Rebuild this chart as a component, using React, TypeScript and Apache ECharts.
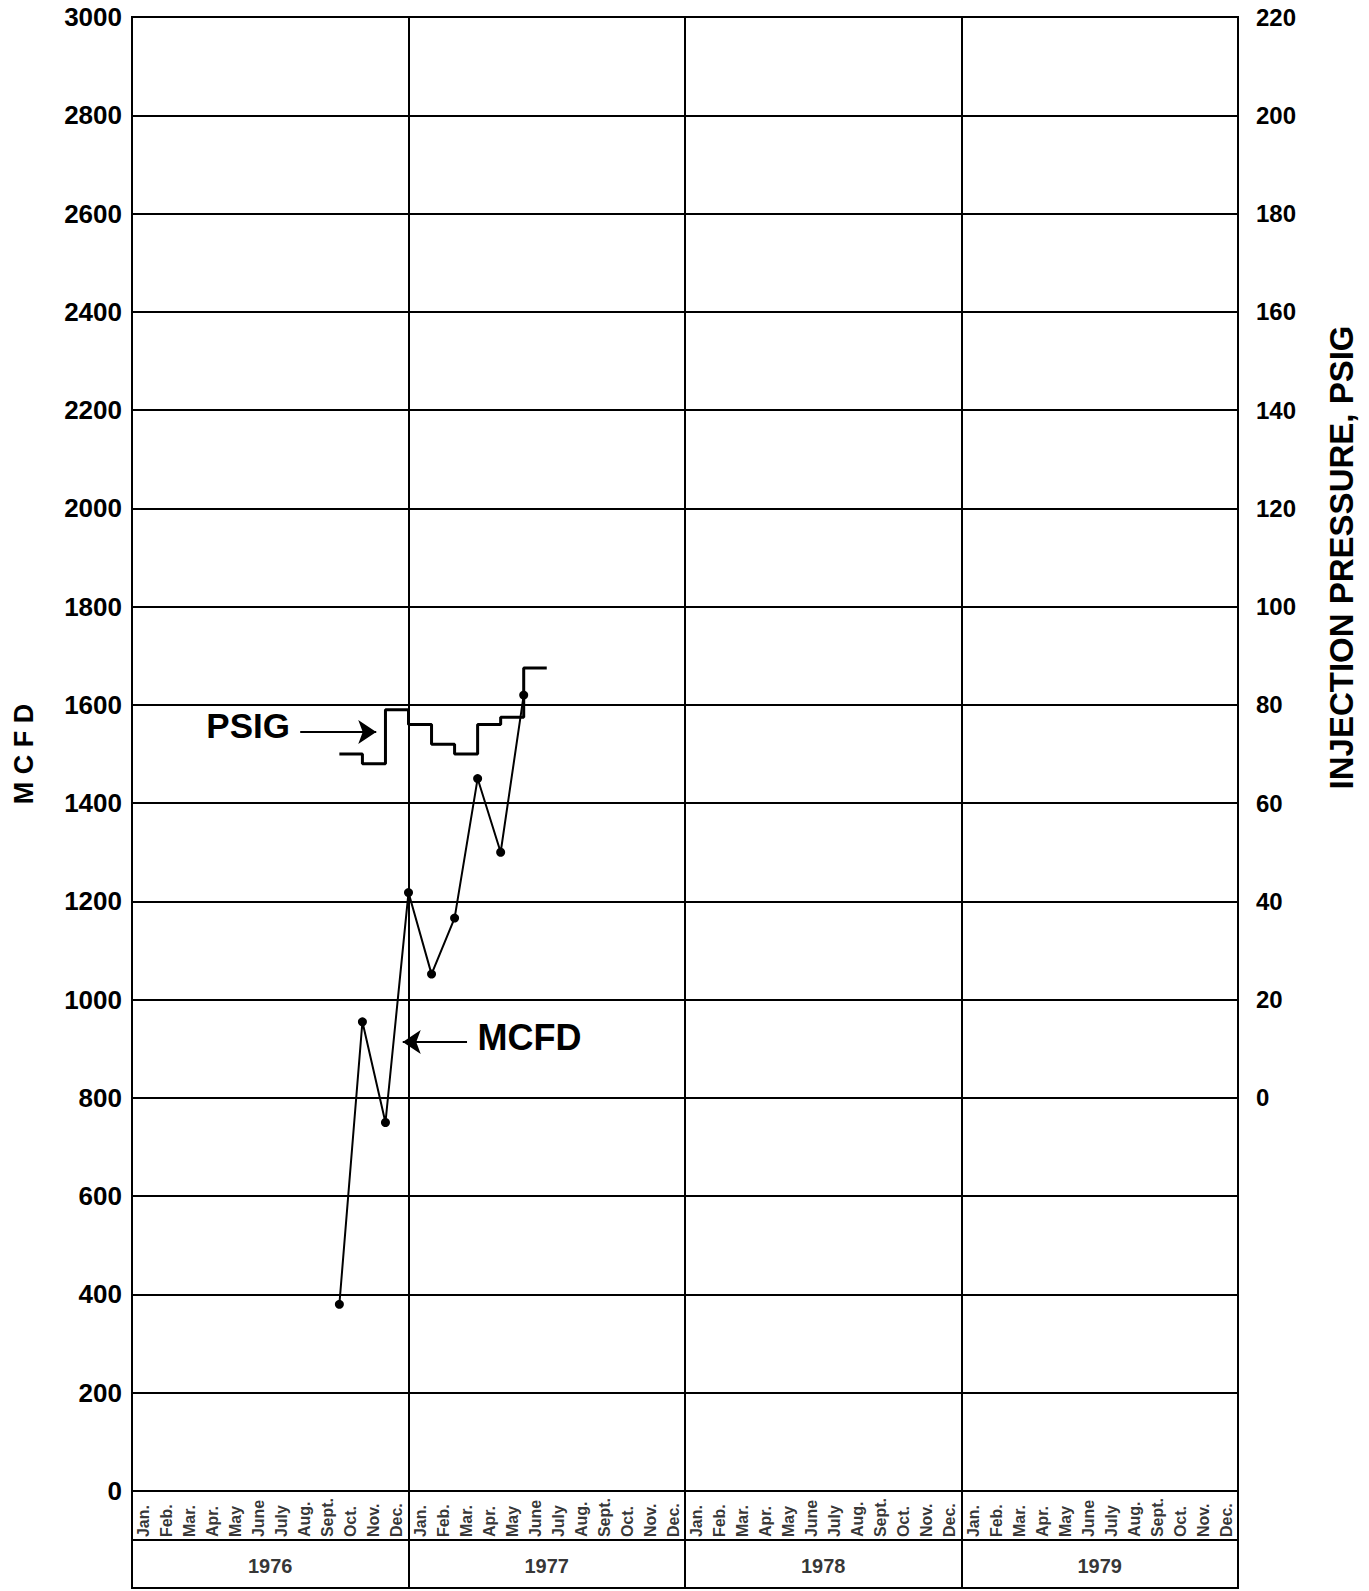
import React, { useEffect, useRef } from 'react';
import * as echarts from 'echarts';

// ---- data ----
const monthLabels = ['Jan.', 'Feb.', 'Mar.', 'Apr.', 'May', 'June', 'July', 'Aug.', 'Sept.', 'Oct.', 'Nov.', 'Dec.'];
const yearLabels = ['1976', '1977', '1978', '1979'];
// month index counted from Jan. 1976 (0 = start of Jan. 1976)
const mcfdMonthIndex = [9, 10, 11, 12, 13, 14, 15, 16, 17];
const mcfdValues = [380, 955, 750, 1218, 1052, 1166, 1450, 1300, 1620];
const psigStartIndex = [9, 10, 11, 12, 13, 14, 15, 16, 17];
const psigValues = [70, 68, 79, 76, 72, 70, 76, 77.5, 87.5];
const mcfdAxis = { min: 0, max: 3000, interval: 200 };
const psigAxis = { min: 0, max: 220, interval: 20 };
const psigZeroAtMcfd = 800;
const leftTitle = 'M C F D';
const rightTitle = 'INJECTION PRESSURE, PSIG';
const psigNote = { text: 'PSIG', at: [5.04, 75.9], arrowFrom: [7.3, 74.5], arrowTo: [10.6, 74.5] };
const mcfdNote = { text: 'MCFD', at: [17.25, 924], arrowFrom: [14.54, 914], arrowTo: [11.75, 914] };

// ---- layout ----
const W = 1369;
const H = 1591;
const LEFT = 132;
const RIGHT = 131;
const TOP = 17;
const PLOT_H = 1474;
const STRIP_BOTTOM = 3;
const FONT = '"Liberation Sans", Arial, Helvetica, sans-serif';
const BLACK = '#000';

export default function App() {
  const ref = useRef<HTMLDivElement>(null);

  useEffect(() => {
    if (!ref.current) return;
    const chart = echarts.init(ref.current, null, { renderer: 'svg' });
    const nMonths = yearLabels.length * monthLabels.length;
    const psigGridH = (PLOT_H * (mcfdAxis.max - psigZeroAtMcfd)) / (mcfdAxis.max - mcfdAxis.min);

    const mcfdData = mcfdMonthIndex.map((m, i) => [m, mcfdValues[i]]);
    const psigData: number[][] = [];
    psigStartIndex.forEach((m, i) => {
      psigData.push([m, psigValues[i]]);
      psigData.push([m + 1, psigValues[i]]);
    });

    const monthData: any[] = [];
    yearLabels.forEach((_, y) => {
      monthLabels.forEach((name, m) => {
        monthData.push({ value: [y * monthLabels.length + m + 0.5, 1.05], name });
      });
    });
    const yearData = yearLabels.map((name, y) => ({
      value: [y * monthLabels.length + monthLabels.length / 2, 0.45],
      name,
    }));

    const lineBlack = { color: BLACK, width: 2 };
    const arrowLine = (note: { arrowFrom: number[]; arrowTo: number[] }) => ({
      silent: true, symbol: ['none', 'arrow'], symbolSize: 18,
      lineStyle: { color: BLACK, width: 2, type: 'solid' }, label: { show: false },
      data: [[{ coord: note.arrowFrom }, { coord: note.arrowTo }]],
    });

    const option: any = {
      animation: false,
      backgroundColor: '#fff',
      textStyle: { fontFamily: FONT },
      grid: [
        { left: LEFT, right: RIGHT, top: TOP, height: PLOT_H, show: true, borderColor: BLACK, borderWidth: 2, backgroundColor: 'transparent' },
        { left: LEFT, right: RIGHT, top: TOP + PLOT_H, bottom: STRIP_BOTTOM, show: true, borderColor: BLACK, borderWidth: 2, backgroundColor: 'transparent' },
        { left: LEFT, right: RIGHT, top: TOP, height: psigGridH, show: false },
      ],
      xAxis: [
        {
          gridIndex: 0, type: 'value', min: 0, max: nMonths, interval: 12,
          axisLabel: { show: false }, axisTick: { show: false },
          axisLine: { show: true, lineStyle: lineBlack },
          splitLine: { show: true, lineStyle: lineBlack },
        },
        {
          gridIndex: 1, type: 'value', min: 0, max: nMonths, interval: 12,
          axisLabel: { show: false }, axisTick: { show: false },
          axisLine: { show: true, lineStyle: lineBlack },
          splitLine: { show: true, lineStyle: lineBlack },
        },
        { gridIndex: 2, type: 'value', min: 0, max: nMonths, show: false },
      ],
      yAxis: [
        {
          gridIndex: 0, type: 'value', position: 'left',
          min: mcfdAxis.min, max: mcfdAxis.max, interval: mcfdAxis.interval,
          axisLine: { show: true, lineStyle: lineBlack }, axisTick: { show: false },
          splitLine: { show: true, lineStyle: lineBlack },
          axisLabel: { color: BLACK, fontSize: 26, fontWeight: 'bold', fontFamily: FONT, margin: 10, formatter: (v: number) => String(v) },
          name: leftTitle, nameLocation: 'middle', nameGap: 95,
          nameTextStyle: { color: BLACK, fontSize: 27, fontWeight: 'bold', fontFamily: FONT },
        },
        {
          gridIndex: 1, type: 'value', min: 0, max: 2, interval: 1,
          axisLine: { show: false }, axisTick: { show: false }, axisLabel: { show: false },
          splitLine: { show: true, lineStyle: lineBlack },
        },
        {
          gridIndex: 2, type: 'value', position: 'right',
          min: psigAxis.min, max: psigAxis.max, interval: psigAxis.interval,
          axisLine: { show: false }, axisTick: { show: false }, splitLine: { show: false },
          axisLabel: { color: BLACK, fontSize: 24, fontWeight: 'bold', fontFamily: FONT, margin: 18, formatter: (v: number) => String(v) },
          name: rightTitle, nameLocation: 'middle', nameGap: 87,
          nameTextStyle: { color: BLACK, fontSize: 33, fontWeight: 'bold', fontFamily: FONT },
        },
      ],
      series: [
        {
          name: 'MCFD', type: 'line', xAxisIndex: 0, yAxisIndex: 0, data: mcfdData,
          symbol: 'circle', symbolSize: 9, showSymbol: true,
          itemStyle: { color: BLACK }, lineStyle: { color: BLACK, width: 2 },
          z: 5,
          markLine: arrowLine(mcfdNote),
          markPoint: {
            silent: true, symbol: 'circle', symbolSize: 0,
            label: { show: true, position: 'inside', formatter: mcfdNote.text, color: BLACK, fontSize: 36, fontWeight: 'bold', fontFamily: FONT },
            data: [{ coord: mcfdNote.at }],
          },
        },
        {
          name: 'PSIG', type: 'line', xAxisIndex: 2, yAxisIndex: 2, data: psigData,
          showSymbol: false, symbol: 'none',
          lineStyle: { color: BLACK, width: 3 },
          z: 5,
          markLine: arrowLine(psigNote),
          markPoint: {
            silent: true, symbol: 'circle', symbolSize: 0,
            label: { show: true, position: 'inside', formatter: psigNote.text, color: BLACK, fontSize: 35, fontWeight: 'bold', fontFamily: FONT },
            data: [{ coord: psigNote.at }],
          },
        },
        {
          name: 'months', type: 'scatter', xAxisIndex: 1, yAxisIndex: 1, data: monthData,
          symbolSize: 0.1, itemStyle: { color: 'transparent' }, silent: true,
          label: {
            show: true, position: 'inside', formatter: (p: any) => p.name, rotate: 90,
            align: 'left', verticalAlign: 'middle',
            color: BLACK, fontSize: 16, fontWeight: 'bold', fontFamily: FONT,
          },
        },
        {
          name: 'years', type: 'scatter', xAxisIndex: 1, yAxisIndex: 1, data: yearData,
          symbolSize: 0.1, itemStyle: { color: 'transparent' }, silent: true,
          label: {
            show: true, position: 'inside', formatter: (p: any) => p.name,
            align: 'center', verticalAlign: 'middle',
            color: BLACK, fontSize: 20, fontWeight: 'bold', fontFamily: FONT,
          },
        },
      ],
    };

    chart.setOption(option);
    return () => chart.dispose();
  }, []);

  return (
    <div
      ref={ref}
      style={{ position: 'absolute', left: 0, top: 0, width: W, height: H, background: '#fff' }}
    />
  );
}
